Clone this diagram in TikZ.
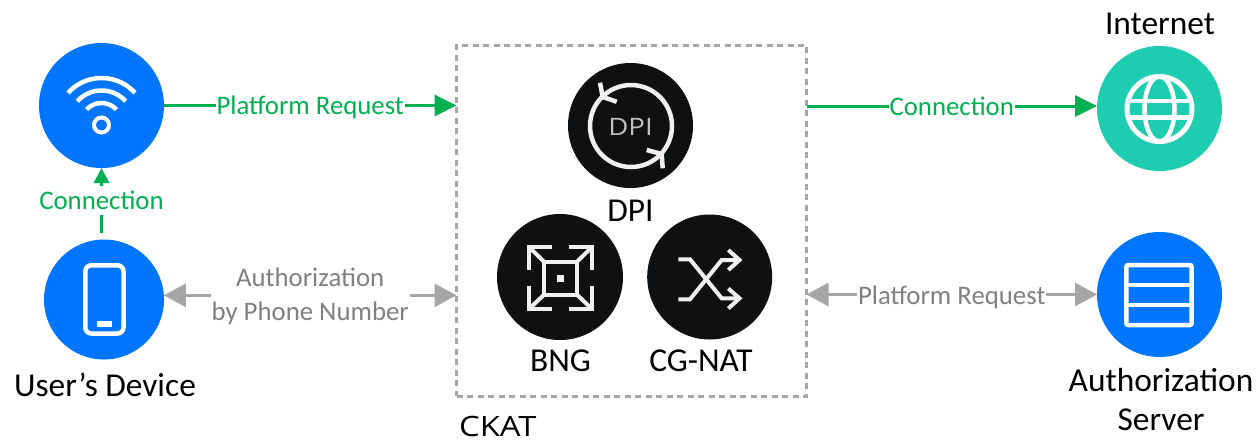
\documentclass[tikz,border=0pt]{standalone}
\usepackage{fontspec}
\setmainfont{Carlito}
\newfontfamily\ckatfont[FakeStretch=1.17]{Open Sans}
\newfontfamily\dpifont[FakeStretch=1.15]{Open Sans}
\usetikzlibrary{arrows.meta}
\definecolor{bluec}{HTML}{0075FF}
\definecolor{tealc}{HTML}{1ECDB0}
\definecolor{darkc}{HTML}{0F1012}
\definecolor{greenc}{HTML}{00B050}
\definecolor{grayc}{HTML}{A6A6A6}
\definecolor{graytext}{HTML}{808080}
\definecolor{iconw}{HTML}{F0F0F0}
\tikzset{
  disc/.style={circle,minimum size=#1,inner sep=0pt,outer sep=0pt},
  cap26/.style={font=\fontsize{33.4}{40}\selectfont,text=black,inner sep=0pt},
  greenlink/.style={draw=greenc,line width=3pt,-{Triangle[length=22pt,width=21pt]}},
  graylink/.style={draw=grayc,line width=3pt,{Triangle[length=22pt,width=23pt]}-{Triangle[length=22pt,width=23pt]}},
  greenlabel/.style={font=\fontsize{26.8}{30}\selectfont,text=greenc,fill=white,inner sep=1pt},
  graylabel/.style={font=\fontsize{26.8}{34}\selectfont,text=graytext,fill=white,inner sep=1pt,align=center},
  wicon/.style={draw=white,line width=4.5pt},
  dicon/.style={draw=iconw,line width=4pt}
}
\begin{document}
\begin{tikzpicture}[x=1pt,y=-1pt]
\useasboundingbox (0,0) rectangle (1258,440);
% CKAT box
\node[draw=grayc,line width=3pt,dash pattern=on 6pt off 4.5pt,minimum width=350pt,minimum height=351pt,inner sep=0pt,outer sep=0pt] (box) at (631.5,220.5) {};
\node[anchor=west,font=\ckatfont\fontsize{28}{32}\selectfont,inner sep=0pt] (ckat) at (459,426.5) {CKAT};
% main discs
\node[disc=125pt,fill=bluec] (wifi) at (101.5,105.5) {};
\node[disc=120pt,fill=bluec] (phone) at (104,299.5) {};
\node[disc=125pt,fill=tealc] (inet) at (1159.5,108.5) {};
\node[disc=125pt,fill=bluec] (auth) at (1159.5,294.5) {};
\node[disc=125pt,fill=darkc] (dpi) at (630.5,125.5) {};
\node[disc=126pt,fill=darkc] (bng) at (560,277) {};
\node[disc=125pt,fill=darkc] (nat) at (709.7,277) {};
% captions
\node[cap26] (tinet) at (1160,24) {Internet};
\node[cap26] (tdpi) at (630.5,211) {DPI};
\node[cap26] (tbng) at (560.5,361) {BNG};
\node[cap26] (tnat) at (701,361) {CG-NAT};
\node[cap26] (tdev) at (105,385) {User’s Device};
\node[cap26] (tauth) at (1161,380) {Authorization};
\node[cap26] (tserv) at (1161,420) {Server};
% connectors
\draw[greenlink] (wifi.east) -- node[greenlabel,yshift=-2pt] (l1) {Platform Request} (wifi.east -| box.west);
\draw[greenlink] (box.east |- inet.west) ++(0,-2.5) coordinate (c1) (c1) -- node[greenlabel] (l2) {Connection} (c1 -| inet.west);
\draw[greenc,line width=3pt,-{Triangle[length=15pt,width=15pt]}] (wifi.south |- phone.north) ++(0,-7) coordinate (c2) (c2) -- node[greenlabel,pos=.47,yshift=2pt,inner ysep=5pt] (l3) {Connection} (wifi.south);
\draw[graylink] (phone.4) -- node[graylabel,yshift=-1pt] (l4) {Authorization\\by Phone Number} (phone.4 -| box.west);
\draw[graylink] (auth.west -| box.east) -- node[graylabel,yshift=-3pt] (l5) {Platform Request} (auth.west);
% wifi icon
\draw[white,line width=4pt] (101.5,125) circle (7.5);
\foreach \r in {45,32.5,20}
  \draw[white,line width=4.5pt] plot[domain=138:42,samples=30] ({101.5+\r*cos(\x)},{123-\r*sin(\x)});
% phone icon
\draw[wicon,rounded corners=6pt] (85.3,265.3) rectangle (123.5,333.5);
\fill[white] (97,321) rectangle (112,327);
% globe icon
\draw[wicon,line width=5pt] (1159.5,109) circle (32.5);
\draw[wicon] (1159.5,109) ellipse (15 and 32.5);
\draw[wicon] (1130,101) -- (1189,101);
\draw[wicon] (1130,117.5) -- (1189,117.5);
% server icon
\draw[wicon,rounded corners=2pt] (1126.3,265) rectangle (1191.7,325);
\draw[wicon] (1126.3,285) -- (1191.7,285);
\draw[wicon] (1126.3,305) -- (1191.7,305);
% dpi icon
\draw[iconw,line width=4.5pt] (631,126) circle (41);
\draw[iconw,line width=4.5pt,line join=miter] (600,82.7) -- (602.7,97) -- (616.7,101.7);
\draw[iconw,line width=4.5pt,line join=miter] (646.7,150) -- (661.7,154) -- (662.7,168.3);
\node[font=\dpifont\fontsize{24}{28}\selectfont,text=iconw!80!black,inner sep=0pt] (dpin) at (630.5,127) {DPI};
% bng icon
\draw[dicon] (544.3,262) rectangle (576.7,294.5);
\fill[iconw] (557.2,274.8) rectangle (564,281.6);
\draw[dicon] (552,246.8) -- (529,246.8) -- (529,270);
\draw[dicon] (569,246.8) -- (592.3,246.8) -- (592.3,270);
\draw[dicon] (552,309) -- (529,309) -- (529,286);
\draw[dicon] (569,309) -- (592.3,309) -- (592.3,286);
\draw[dicon] (530,248) -- (544.3,262);
\draw[dicon] (591,248) -- (576.7,262);
\draw[dicon] (530,308) -- (544.3,294.5);
\draw[dicon] (591,308) -- (576.7,294.5);
% nat icon
\draw[dicon] (678.3,259.3) -- (690,259.3) -- (721.7,298.3) -- (739,298.3);
\draw[dicon] (678.3,299.3) -- (690,299.3) -- (721.7,260) -- (739,260);
\draw[dicon] (728.3,250) -- (739.5,260) -- (728.3,270);
\draw[dicon] (728.3,288.5) -- (739.5,298.3) -- (728.3,308.5);
\end{tikzpicture}
\end{document}
